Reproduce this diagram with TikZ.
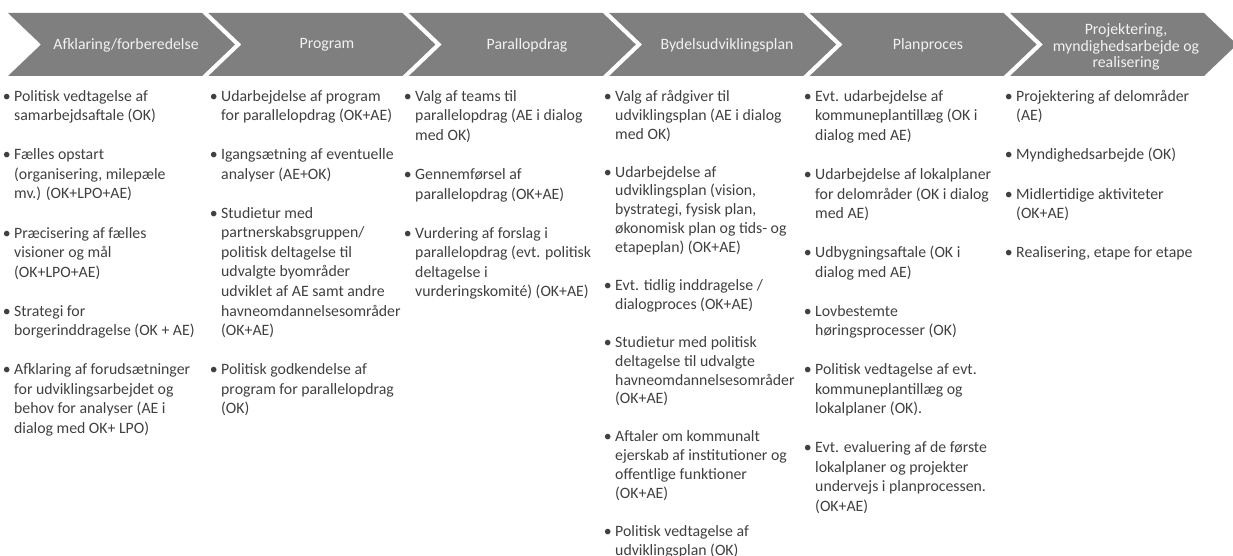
\documentclass[tikz,border=0pt]{standalone}
\usepackage{fontspec}
\setmainfont{Carlito}
\definecolor{chev}{HTML}{7F7F7F}
\definecolor{htext}{HTML}{F2F2F2}
\definecolor{btext}{HTML}{404040}
\newcommand{\bulitem}[1]{\begin{tabular}[t]{@{}l@{}}\llap{•\hspace{3.5pt}}#1\end{tabular}}
\begin{document}
\begin{tikzpicture}[x=1pt,y=-1pt,
  head/.style={text=htext, font=\fontsize{15.8}{16.6}\selectfont, align=center, inner sep=0pt},
  item/.style={anchor=base west, inner sep=0pt, text=btext, font=\fontsize{15.8}{19.5}\selectfont},
  itemtight/.style={item, font=\fontsize{15.8}{18.9}\selectfont},
  chevshape/.style={fill=chev, draw=none}]
\useasboundingbox (0,0) rectangle (1233,556);
\begin{scope}
\clip (0,0) rectangle (1233,556);
\foreach \i in {0,...,5} {
  \pgfmathsetmacro\xo{8+200.4*\i}
  \fill[chevshape] (\xo,13) -- ++(194,0) -- ++(33,31.5) -- ++(-33,31.5) -- ++(-194,0) -- ++(33,-31.5) -- cycle;
}
\end{scope}
% headers
\node[head] (h1) at (126,45) {Afklaring/forberedelse};
\node[head] (h2) at (327,45) {Program};
\node[head] (h3) at (527,45) {Parallopdrag};
\node[head] (h4) at (727,45) {Bydelsudviklingsplan};
\node[head] (h5) at (928,45) {Planproces};
\node[head] (h6) at (1126,47) {Projektering,\\myndighedsarbejde og\\realisering};
% column 1
\node[item] (a1) at (14,101.5) {\bulitem{Politisk vedtagelse af\\samarbejdsaftale (OK)}};
\node[item] (a2) at (14,160) {\bulitem{Fælles opstart\\(organisering, milepæle\\mv.) (OK+LPO+AE)}};
\node[item] (a3) at (14,238) {\bulitem{Præcisering af fælles\\visioner og mål\\(OK+LPO+AE)}};
\node[item] (a4) at (14,316) {\bulitem{Strategi for\\borgerinddragelse (OK + AE)}};
\node[item] (a5) at (14,374.5) {\bulitem{Afklaring af forudsætninger\\for udviklingsarbejdet og\\behov for analyser (AE i\\dialog med OK+ LPO)}};
% column 2
\node[item] (b1) at (221,101.5) {\bulitem{Udarbejdelse af program\\for parallelopdrag (OK+AE)}};
\node[item] (b2) at (221,160) {\bulitem{Igangsætning af eventuelle\\analyser (AE+OK)}};
\node[item] (b3) at (221,218.5) {\bulitem{Studietur med\\partnerskabsgruppen/\\politisk deltagelse til\\udvalgte byområder\\udviklet af AE samt andre\\havneomdannelsesområder\\(OK+AE)}};
\node[item] (b4) at (221,374.5) {\bulitem{Politisk godkendelse af\\program for parallelopdrag\\(OK)}};
% column 3
\node[item] (c1) at (415,101.5) {\bulitem{Valg af teams til\\parallelopdrag (AE i dialog\\med OK)}};
\node[item] (c2) at (415,179.5) {\bulitem{Gennemførsel af\\parallelopdrag (OK+AE)}};
\node[item] (c3) at (415,238) {\bulitem{Vurdering af forslag i\\parallelopdrag (evt. politisk\\deltagelse i\\vurderingskomité) (OK+AE)}};
% column 4
\node[itemtight] (d1) at (615,101.5) {\bulitem{Valg af rådgiver til\\udviklingsplan (AE i dialog\\med OK)}};
\node[itemtight] (d2) at (615,177.1) {\bulitem{Udarbejdelse af\\udviklingsplan (vision,\\bystrategi, fysisk plan,\\økonomisk plan og tids- og\\etapeplan) (OK+AE)}};
\node[itemtight] (d3) at (615,290.5) {\bulitem{Evt. tidlig inddragelse /\\dialogproces (OK+AE)}};
\node[itemtight] (d4) at (615,347.2) {\bulitem{Studietur med politisk\\deltagelse til udvalgte\\havneomdannelsesområder\\(OK+AE)}};
\node[itemtight] (d5) at (615,441.7) {\bulitem{Aftaler om kommunalt\\ejerskab af institutioner og\\offentlige funktioner\\(OK+AE)}};
\node[itemtight] (d6) at (615,536.2) {\bulitem{Politisk vedtagelse af\\udviklingsplan (OK)}};
% column 5
\node[item] (e1) at (815,101.5) {\bulitem{Evt. udarbejdelse af\\kommuneplantillæg (OK i\\dialog med AE)}};
\node[item] (e2) at (815,179.5) {\bulitem{Udarbejdelse af lokalplaner\\for delområder (OK i dialog\\med AE)}};
\node[item] (e3) at (815,257.5) {\bulitem{Udbygningsaftale (OK i\\dialog med AE)}};
\node[item] (e4) at (815,316) {\bulitem{Lovbestemte\\høringsprocesser (OK)}};
\node[item] (e5) at (815,374.5) {\bulitem{Politisk vedtagelse af evt.\\kommuneplantillæg og\\lokalplaner (OK).}};
\node[item] (e6) at (815,452.5) {\bulitem{Evt. evaluering af de første\\lokalplaner og projekter\\undervejs i planprocessen.\\(OK+AE)}};
% column 6
\node[item] (f1) at (1016,101.5) {\bulitem{Projektering af delområder\\(AE)}};
\node[item] (f2) at (1016,160) {\bulitem{Myndighedsarbejde (OK)}};
\node[item] (f3) at (1016,199) {\bulitem{Midlertidige aktiviteter\\(OK+AE)}};
\node[item] (f4) at (1016,257.5) {\bulitem{Realisering, etape for etape}};
\end{tikzpicture}
\end{document}
